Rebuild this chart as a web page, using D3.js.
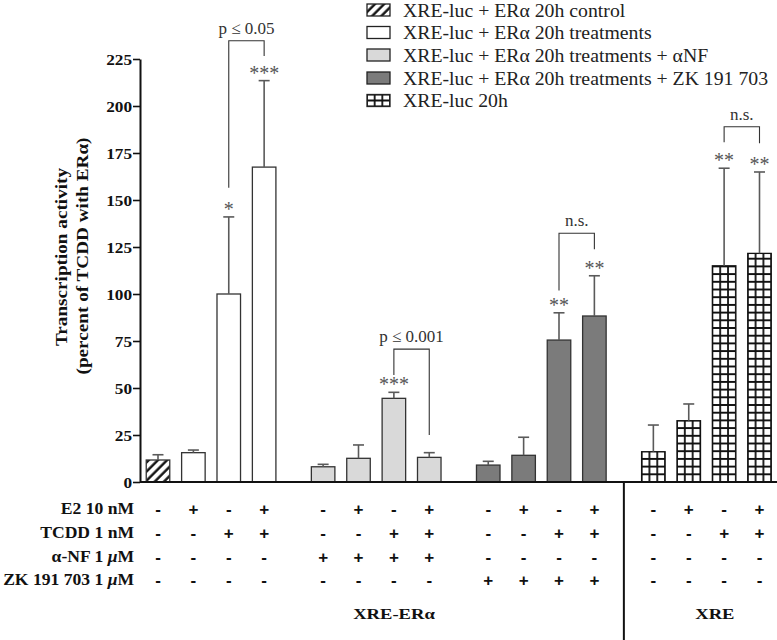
<!DOCTYPE html>
<html><head><meta charset="utf-8">
<script src="https://cdn.jsdelivr.net/npm/d3@7"></script>
<style>body{margin:0;background:#fff}svg{display:block}</style>
</head><body>
<svg id="chart" width="777" height="640"></svg>
<script>
// ---------- data ----------
const seriesNames = [
  "XRE-luc + ERα 20h control",
  "XRE-luc + ERα 20h treatments",
  "XRE-luc + ERα 20h treatments + αNF",
  "XRE-luc + ERα 20h treatments + ZK 191 703",
  "XRE-luc 20h"
];
const barSeries = [0,1,1,1, 2,2,2,2, 3,3,3,3, 4,4,4,4];
const barGroup  = [0,0,0,0, 1,1,1,1, 2,2,2,2, 3,3,3,3];
const values    = [11.7,15.6,100,167.5, 8.1,12.6,44.5,13.1, 9.0,14.2,75.5,88.3, 16.1,32.6,115,121.6];
const errors    = [2.8,1.4,41,46, 1.3,7.1,3.2,2.5, 2.0,9.6,14.5,21.4, 14.2,8.9,51.9,43.3];
const stars     = ["","","*","***", "","","***","", "","","**","**", "","","**","**"];
const yTicks    = [0,25,50,75,100,125,150,175,200,225];
const rowLabels = ["E2 10 nM","TCDD 1 nM","α-NF 1 μM","ZK 191 703 1 μM"];
const treatE2   = ["-","+","-","+", "-","+","-","+", "-","+","-","+", "-","+","-","+"];
const treatTCDD = ["-","-","+","+", "-","-","+","+", "-","-","+","+", "-","-","+","+"];
const treatANF  = ["-","-","-","-", "+","+","+","+", "-","-","-","-", "-","-","-","-"];
const treatZK   = ["-","-","-","-", "-","-","-","-", "+","+","+","+", "-","-","-","-"];
const groupLabels = ["XRE-ERα","XRE"];
// brackets: bar a, bar b, left end value, right end value, top value, label
const brackets = [
  {a:2, b:3, la:156.5, lb:226.6, top:234.7, label:"p ≤ 0.05"},
  {a:6, b:7, la:56.9,  lb:25.0,  top:70.7,  label:"p ≤ 0.001"},
  {a:10,b:11,la:101.8, lb:123.8, top:132.3, label:"n.s."},
  {a:14,b:15,la:180.7, lb:180.2, top:189.0, label:"n.s."}
];

// ---------- layout ----------
const svg = d3.select("#chart");
const serif = "'Liberation Serif','Times New Roman',serif";
const sans = "'Liberation Sans',Arial,sans-serif";
const fills = ["url(#hatch)","#ffffff","#d9d9d9","#7b7b7b",null];
const groupStride = 4.667;
const slot = i => barGroup[i]*groupStride + (i%4);
const x = d3.scaleLinear().domain([0, 3*groupStride+3]).range([158, 759.5]);
const y = d3.scaleLinear().domain([0,225]).range([482,59]);
const bw = (x(1)-x(0))*0.665;
const axisX = 140;

const defs = svg.append("defs");
const hatch = defs.append("pattern").attr("id","hatch").attr("patternUnits","userSpaceOnUse")
  .attr("width",6.5).attr("height",6.5).attr("patternTransform","rotate(45)");
hatch.append("rect").attr("width",6.5).attr("height",6.5).attr("fill","#fff");
hatch.append("line").attr("x1",1.5).attr("x2",1.5).attr("y1",0).attr("y2",6.5).attr("stroke","#111").attr("stroke-width",2.4);

function gridPattern(id, x0, y0, cw, ch){
  const p = defs.append("pattern").attr("id",id).attr("patternUnits","userSpaceOnUse")
    .attr("x",x0).attr("y",y0).attr("width",cw).attr("height",ch);
  p.append("rect").attr("width",cw).attr("height",ch).attr("fill","#fff");
  p.append("path").attr("d",`M0,0V${ch}M0,${ch}H${cw}M${cw},0V${ch}M0,0H${cw}`)
    .attr("stroke","#111").attr("stroke-width",1.8).attr("fill","none");
}

// ---------- bars ----------
const idx = d3.range(values.length);
idx.forEach(i=>{
  if(barSeries[i]===4){ gridPattern("grid"+i, x(slot(i))-bw/2, y(0), bw/3, 7.7); }
});
svg.append("g").selectAll("rect").data(idx).join("rect")
  .attr("x", i=>x(slot(i))-bw/2).attr("width", bw)
  .attr("y", i=>y(values[i])).attr("height", i=>y(0)-y(values[i]))
  .attr("fill", i=> barSeries[i]===4 ? `url(#grid${i})` : fills[barSeries[i]])
  .attr("stroke", i=> barSeries[i]===4 ? "#111" : "#333").attr("stroke-width",1.3);

// error bars
const eg = svg.append("g").attr("stroke","#5a5a5a").attr("stroke-width",1.6);
idx.forEach(i=>{
  const cx = x(slot(i));
  eg.append("line").attr("x1",cx).attr("x2",cx).attr("y1",y(values[i])).attr("y2",y(values[i]+errors[i]));
  eg.append("line").attr("x1",cx-5.5).attr("x2",cx+5.5).attr("y1",y(values[i]+errors[i])).attr("y2",y(values[i]+errors[i]));
});
// stars
svg.append("g").selectAll("text").data(idx.filter(i=>stars[i])).join("text")
  .attr("x", i=>x(slot(i))).attr("y", i=>y(values[i]+errors[i])-1)
  .attr("text-anchor","middle").attr("font-family",serif).attr("font-size",20).attr("fill","#555")
  .text(i=>stars[i]);

// brackets
const bg = svg.append("g");
brackets.forEach(b=>{
  const xa = x(slot(b.a)), xb = x(slot(b.b));
  bg.append("path").attr("d",`M${xa},${y(b.la)}V${y(b.top)}H${xb}V${y(b.lb)}`)
    .attr("fill","none").attr("stroke","#333").attr("stroke-width",1.1);
  bg.append("text").attr("x",(xa+xb)/2).attr("y",y(b.top)-7).attr("text-anchor","middle")
    .attr("font-family",serif).attr("font-size",17).attr("fill","#333").text(b.label);
});

// ---------- axes ----------
const yAxis = svg.append("g").attr("transform",`translate(${axisX},0)`)
  .call(d3.axisLeft(y).tickValues(yTicks).tickSize(7).tickPadding(2).tickSizeOuter(0));
yAxis.select(".domain").attr("stroke","#111").attr("stroke-width",2);
yAxis.selectAll(".tick line").attr("stroke","#111").attr("stroke-width",1.6);
yAxis.selectAll(".tick text").attr("x",null).attr("dy","0.35em")
  .attr("transform","translate(-8,0) scale(1.15,1)")
  .attr("font-family",serif).attr("font-weight","bold").attr("font-size",15).attr("fill","#111");

// baseline
svg.append("line").attr("x1",axisX).attr("x2",777).attr("y1",y(0)).attr("y2",y(0))
  .attr("stroke","#111").attr("stroke-width",2);
// separator
const sepX = (x(slot(11))+x(slot(12)))/2;
svg.append("line").attr("x1",sepX).attr("x2",sepX).attr("y1",y(0)).attr("y2",640)
  .attr("stroke","#111").attr("stroke-width",2);

// y title
const yt = svg.append("g").attr("font-family",serif).attr("font-weight","bold").attr("font-size",16).attr("fill","#111");
yt.append("text").attr("transform","translate(67,257) rotate(-90) scale(1.2,1)").attr("text-anchor","middle").text("Transcription activity");
yt.append("text").attr("transform","translate(88,256) rotate(-90) scale(1.2,1)").attr("text-anchor","middle").text("(percent of TCDD with ERα)");

// ---------- treatment table ----------
const rowsY = [509,533,557,580];
const treats = [treatE2, treatTCDD, treatANF, treatZK];
rowLabels.forEach((lab,r)=>{
  const t = svg.append("text").attr("transform",`translate(134,${rowsY[r]+5}) scale(1.1,1)`)
    .attr("text-anchor","end").attr("font-family",serif).attr("font-weight","bold").attr("font-size",16).attr("fill","#111");
  if(lab.includes("μ")){
    const parts = lab.split("μ");
    t.append("tspan").text(parts[0]);
    t.append("tspan").attr("font-style","italic").text("μ");
    t.append("tspan").text(parts[1]);
  } else t.text(lab);
  svg.append("g").selectAll("text").data(idx).join("text")
    .attr("x", i=>x(slot(i))).attr("y", rowsY[r]+6).attr("text-anchor","middle")
    .attr("font-family",sans).attr("font-weight","bold").attr("font-size",17).attr("fill","#111")
    .text(i=>treats[r][i]);
});
// group labels
const glx = [x(6.67), x(15.74)];
groupLabels.forEach((g,k)=>{
  svg.append("text").attr("transform",`translate(${glx[k]},619) scale(1.2,1)`).attr("text-anchor","middle")
    .attr("font-family",serif).attr("font-weight","bold").attr("font-size",15.5).attr("fill","#111").text(g);
});

// ---------- legend ----------
const lgY = [10,32.5,55,78,100.5];
const lg = svg.append("g");
gridPattern("gridLeg", 367, lgY[4]+6, 23/3, 6);
seriesNames.forEach((s,k)=>{
  lg.append("rect").attr("x",367).attr("y",lgY[k]-6).attr("width",23).attr("height",12)
    .attr("fill", k===4 ? "url(#gridLeg)" : fills[k]).attr("stroke","#222").attr("stroke-width",1.3);
  lg.append("text").attr("x",403).attr("y",lgY[k]+7).attr("font-family",serif).attr("font-size",19)
    .attr("textLength", null)
    .attr("transform", `translate(403,0) scale(1.04,1) translate(-403,0)`)
    .attr("fill","#222").text(s);
});
</script>
</body></html>
